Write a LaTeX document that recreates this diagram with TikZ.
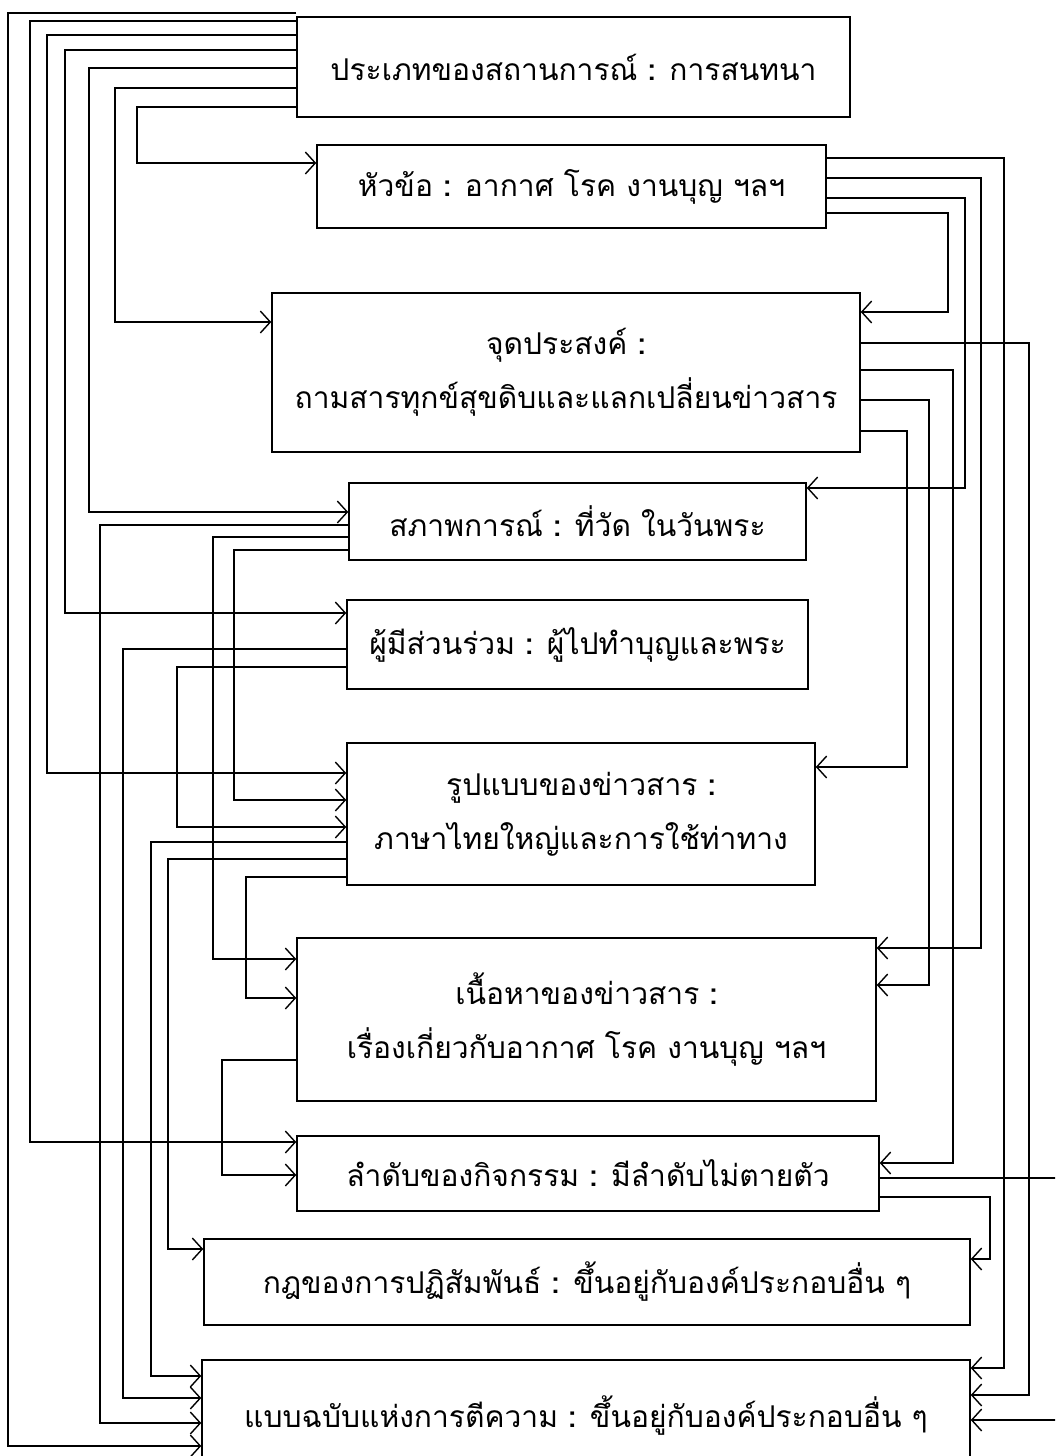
\documentclass[tikz,border=0pt]{standalone}
\usepackage{fontspec}
\newfontfamily\thaifont[Script=Thai]{Loma}
\usetikzlibrary{arrows.meta}

\tikzset{
  box/.style={draw, line width=0.75pt, inner sep=0pt, align=center,
    font=\thaifont\fontsize{15}{27}\selectfont},
  arr/.style={line width=0.7pt, -{Straight Barb[length=5pt,width=11pt]}},
}

\begin{document}
\begin{tikzpicture}[x=0.5pt, y=-0.5pt]
      \useasboundingbox (0,0) rectangle (1055,1456);
      \clip (0,0) rectangle (1055,1456);

      % boxes
      \node[box, minimum width=276.5pt, minimum height=50pt] (prakhet) at (573.5,67)
        {ประเภทของสถานการณ์ \textbf{:} การสนทนา};
      \node[box, minimum width=254.5pt, minimum height=41.5pt] (huakho) at (571.5,186.5)
        {หัวข้อ \textbf{:} อากาศ โรค งานบุญ ฯลฯ};
      \node[box, minimum width=294pt, minimum height=79.5pt] (prasong) at (566,372.5)
        {จุดประสงค์ \textbf{:}\\ ถามสารทุกข์สุขดิบและแลกเปลี่ยนข่าวสาร};
      \node[box, minimum width=228.5pt, minimum height=38.5pt] (saphap) at (577.5,521.5)
        {สภาพการณ์ \textbf{:} ที่วัด ในวันพระ};
      \node[box, minimum width=230.5pt, minimum height=44.5pt] (phumi) at (577.5,644.5)
        {ผู้มีส่วนร่วม \textbf{:} ผู้ไปทำบุญและพระ};
      \node[box, minimum width=234pt, minimum height=71pt] (rupbaep) at (581,814)
        {รูปแบบของข่าวสาร \textbf{:}\\ ภาษาไทยใหญ่และการใช้ท่าทาง};
      \node[box, minimum width=289.5pt, minimum height=81.5pt] (nueha) at (586.5,1019.5)
        {เนื้อหาของข่าวสาร \textbf{:}\\ เรื่องเกี่ยวกับอากาศ โรค งานบุญ ฯลฯ};
      \node[box, minimum width=291pt, minimum height=37.5pt] (lamdap) at (588,1173.5)
        {ลำดับของกิจกรรม \textbf{:} มีลำดับไม่ตายตัว};
      \node[box, minimum width=383pt, minimum height=43pt] (kot) at (587,1282)
        {กฎของการปฏิสัมพันธ์ \textbf{:} ขึ้นอยู่กับองค์ประกอบอื่น ๆ};
      \node[box, minimum width=384pt, minimum height=55pt] (baep) at (586,1415)
        {แบบฉบับแห่งการตีความ \textbf{:} ขึ้นอยู่กับองค์ประกอบอื่น ๆ};

      % from the top box, round the left side
      \draw[arr] (prakhet.west |- 0,13) -| (8,1446) -- (baep.west |- 0,1446);
      \draw[arr] (prakhet.west |- 0,21) -| (30,1142) -- (lamdap.west |- 0,1142);
      \draw[arr] (prakhet.west |- 0,35) -| (47,773) -- (rupbaep.west |- 0,773);
      \draw[arr] (prakhet.west |- 0,50) -| (65,613) -- (phumi.west |- 0,613);
      \draw[arr] (prakhet.west |- 0,68) -| (89,512) -- (saphap.west |- 0,512);
      \draw[arr] (prakhet.west |- 0,88) -| (115,322) -- (prasong.west |- 0,322);
      \draw[arr] (prakhet.west |- 0,107) -| (137,163) -- (huakho.west |- 0,163);

      % right side
      \draw[arr] (huakho.east |- 0,158) -| (1004,1368) -- (baep.east |- 0,1368);
      \draw[arr] (huakho.east |- 0,178) -| (981,948) -- (nueha.east |- 0,948);
      \draw[arr] (huakho.east |- 0,198) -| (965,488) -- (saphap.east |- 0,488);
      \draw[arr] (huakho.east |- 0,213) -| (948,312) -- (prasong.east |- 0,312);
      \draw[arr] (prasong.east |- 0,343) -| (1029,1395) -- (baep.east |- 0,1395);
      \draw[arr] (prasong.east |- 0,370) -| (953,1163) -- (lamdap.east |- 0,1163);
      \draw[arr] (prasong.east |- 0,400) -| (929,985) -- (nueha.east |- 0,985);
      \draw[arr] (prasong.east |- 0,431) -| (907,767) -- (rupbaep.east |- 0,767);
      \draw[arr] (lamdap.east |- 0,1197) -| (990,1259) -- (kot.east |- 0,1259);
      \draw[arr] (lamdap.east |- 0,1178) -| (1070,1420) -- (baep.east |- 0,1420);

      % inner left side
      \draw[arr] (saphap.west |- 0,525) -| (100,1423) -- (baep.west |- 0,1423);
      \draw[arr] (saphap.west |- 0,537) -| (213,959) -- (nueha.west |- 0,959);
      \draw[arr] (saphap.west |- 0,550) -| (234,800) -- (rupbaep.west |- 0,800);
      \draw[arr] (phumi.west |- 0,649) -| (123,1398) -- (baep.west |- 0,1398);
      \draw[arr] (phumi.west |- 0,667) -| (177,827) -- (rupbaep.west |- 0,827);
      \draw[arr] (rupbaep.west |- 0,842) -| (151,1376) -- (baep.west |- 0,1376);
      \draw[arr] (rupbaep.west |- 0,859) -| (168,1249) -- (kot.west |- 0,1249);
      \draw[arr] (rupbaep.west |- 0,877) -| (246,998) -- (nueha.west |- 0,998);
      \draw[arr] (nueha.west |- 0,1060) -| (222,1175) -- (lamdap.west |- 0,1175);
    \end{tikzpicture}
\end{document}
